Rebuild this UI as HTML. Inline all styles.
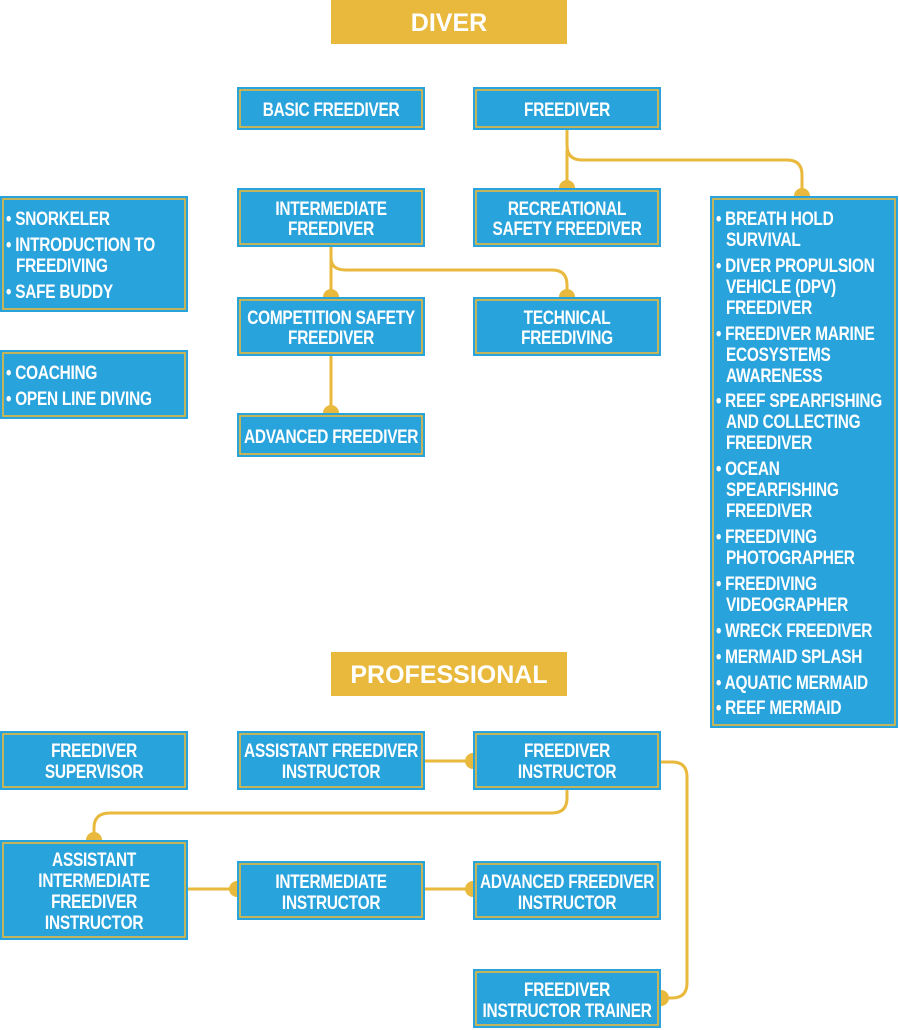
<!DOCTYPE html>
<html><head><meta charset="utf-8"><style>
html,body{margin:0;padding:0;background:#fff;}
svg{display:block}
.t{font-family:"Liberation Sans",sans-serif;font-weight:bold;font-size:19.5px;fill:#fff;letter-spacing:-0.3px;transform:scaleX(0.79);transform-box:fill-box;transform-origin:left center}
.c{text-anchor:middle;transform-origin:center center}
.h{font-family:"Liberation Sans",sans-serif;font-weight:bold;font-size:25px;fill:#fff;text-anchor:middle}
.b{fill:#29a3dc}
.i{fill:none;stroke:#e8b93c;stroke-width:1.6}
.l{fill:none;stroke:#e8b93c;stroke-width:3}
.d{fill:#e8b93c}
</style></head><body>
<svg width="899" height="1030" viewBox="0 0 899 1030" xmlns="http://www.w3.org/2000/svg">
<path class="l" d="M567 130 V145 Q567 160 582 160 H787 Q802 160 802 175 V196"/>
<path class="l" d="M567 150 V188"/>
<path class="l" d="M331 247 V258 Q331 270 346 270 H552 Q567 270 567 285 V297"/>
<path class="l" d="M331 247 V297"/>
<path class="l" d="M331 356 V413"/>
<path class="l" d="M425 761 H473"/>
<path class="l" d="M567 790 V798 Q567 813 552 813 H110 Q94 813 94 828 V840"/>
<path class="l" d="M188 889 H237"/>
<path class="l" d="M425 889 H473"/>
<path class="l" d="M661 762 H672 Q687 762 687 777 V983 Q687 998 672 998 H661"/>
<path class="d" d="M559 188 A8 8 0 0 1 575 188Z"/>
<path class="d" d="M794 196 A8 8 0 0 1 810 196Z"/>
<path class="d" d="M323 297 A8 8 0 0 1 339 297Z"/>
<path class="d" d="M559 297 A8 8 0 0 1 575 297Z"/>
<path class="d" d="M323 413 A8 8 0 0 1 339 413Z"/>
<path class="d" d="M473 753 A8 8 0 0 0 473 769Z"/>
<path class="d" d="M86 840 A8 8 0 0 1 102 840Z"/>
<path class="d" d="M237 881 A8 8 0 0 0 237 897Z"/>
<path class="d" d="M473 881 A8 8 0 0 0 473 897Z"/>
<path class="d" d="M661 990 A8 8 0 0 1 661 1006Z"/>
<rect x="331" y="0" width="236" height="44" fill="#e8b93c"/>
<text class="h" x="449" y="31">DIVER</text>
<rect x="331" y="652" width="236" height="44" fill="#e8b93c"/>
<text class="h" x="449" y="683">PROFESSIONAL</text>
<g>
<rect class="b" x="237" y="87" width="188" height="43"/><rect class="i" x="240" y="90" width="182" height="37"/>
<text class="t c" x="331" y="116">BASIC FREEDIVER</text>
<rect class="b" x="473" y="87" width="188" height="43"/><rect class="i" x="476" y="90" width="182" height="37"/>
<text class="t c" x="567" y="116">FREEDIVER</text>
<rect class="b" x="237" y="188" width="188" height="59"/><rect class="i" x="240" y="191" width="182" height="53"/>
<text class="t c" x="331" y="215">INTERMEDIATE</text><text class="t c" x="331" y="235">FREEDIVER</text>
<rect class="b" x="473" y="188" width="188" height="59"/><rect class="i" x="476" y="191" width="182" height="53"/>
<text class="t c" x="567" y="215">RECREATIONAL</text><text class="t c" x="567" y="235">SAFETY FREEDIVER</text>
<rect class="b" x="237" y="297" width="188" height="59"/><rect class="i" x="240" y="300" width="182" height="53"/>
<text class="t c" x="331" y="324">COMPETITION SAFETY</text><text class="t c" x="331" y="344">FREEDIVER</text>
<rect class="b" x="473" y="297" width="188" height="59"/><rect class="i" x="476" y="300" width="182" height="53"/>
<text class="t c" x="567" y="324">TECHNICAL</text><text class="t c" x="567" y="344">FREEDIVING</text>
<rect class="b" x="237" y="413" width="188" height="44"/><rect class="i" x="240" y="416" width="182" height="38"/>
<text class="t c" x="331" y="443">ADVANCED FREEDIVER</text>

<rect class="b" x="0" y="196" width="188" height="116"/><rect class="i" x="3" y="199" width="182" height="110"/>
<text class="t" x="6" y="225">• SNORKELER</text>
<text class="t" x="6" y="251">• INTRODUCTION TO</text>
<text class="t" x="16" y="272">FREEDIVING</text>
<text class="t" x="6" y="298">• SAFE BUDDY</text>
<rect class="b" x="0" y="350" width="188" height="69"/><rect class="i" x="3" y="353" width="182" height="63"/>
<text class="t" x="6" y="379">• COACHING</text>
<text class="t" x="6" y="405">• OPEN LINE DIVING</text>

<rect class="b" x="710" y="196" width="188" height="532"/><rect class="i" x="713" y="199" width="182" height="526"/>
<text class="t" x="716" y="225">• BREATH HOLD</text>
<text class="t" x="726" y="246">SURVIVAL</text>
<text class="t" x="716" y="272">• DIVER PROPULSION</text>
<text class="t" x="726" y="293">VEHICLE (DPV)</text>
<text class="t" x="726" y="314">FREEDIVER</text>
<text class="t" x="716" y="340">• FREEDIVER MARINE</text>
<text class="t" x="726" y="361">ECOSYSTEMS</text>
<text class="t" x="726" y="382">AWARENESS</text>
<text class="t" x="716" y="407">• REEF SPEARFISHING</text>
<text class="t" x="726" y="428">AND COLLECTING</text>
<text class="t" x="726" y="449">FREEDIVER</text>
<text class="t" x="716" y="475">• OCEAN</text>
<text class="t" x="726" y="496">SPEARFISHING</text>
<text class="t" x="726" y="517">FREEDIVER</text>
<text class="t" x="716" y="543">• FREEDIVING</text>
<text class="t" x="726" y="564">PHOTOGRAPHER</text>
<text class="t" x="716" y="590">• FREEDIVING</text>
<text class="t" x="726" y="611">VIDEOGRAPHER</text>
<text class="t" x="716" y="637">• WRECK FREEDIVER</text>
<text class="t" x="716" y="663">• MERMAID SPLASH</text>
<text class="t" x="716" y="689">• AQUATIC MERMAID</text>
<text class="t" x="716" y="714">• REEF MERMAID</text>

<rect class="b" x="0" y="731" width="188" height="59"/><rect class="i" x="3" y="734" width="182" height="53"/>
<text class="t c" x="94" y="757">FREEDIVER</text><text class="t c" x="94" y="778">SUPERVISOR</text>
<rect class="b" x="237" y="731" width="188" height="59"/><rect class="i" x="240" y="734" width="182" height="53"/>
<text class="t c" x="331" y="757">ASSISTANT FREEDIVER</text><text class="t c" x="331" y="778">INSTRUCTOR</text>
<rect class="b" x="473" y="731" width="188" height="59"/><rect class="i" x="476" y="734" width="182" height="53"/>
<text class="t c" x="567" y="757">FREEDIVER</text><text class="t c" x="567" y="778">INSTRUCTOR</text>
<rect class="b" x="0" y="840" width="188" height="100"/><rect class="i" x="3" y="843" width="182" height="94"/>
<text class="t c" x="94" y="866">ASSISTANT</text><text class="t c" x="94" y="887">INTERMEDIATE</text>
<text class="t c" x="94" y="908">FREEDIVER</text><text class="t c" x="94" y="929">INSTRUCTOR</text>
<rect class="b" x="237" y="861" width="188" height="59"/><rect class="i" x="240" y="864" width="182" height="53"/>
<text class="t c" x="331" y="888">INTERMEDIATE</text><text class="t c" x="331" y="909">INSTRUCTOR</text>
<rect class="b" x="473" y="861" width="188" height="59"/><rect class="i" x="476" y="864" width="182" height="53"/>
<text class="t c" x="567" y="888">ADVANCED FREEDIVER</text><text class="t c" x="567" y="909">INSTRUCTOR</text>
<rect class="b" x="473" y="969" width="188" height="59"/><rect class="i" x="476" y="972" width="182" height="53"/>
<text class="t c" x="567" y="996">FREEDIVER</text><text class="t c" x="567" y="1017">INSTRUCTOR TRAINER</text>
</g>
</svg>
</body></html>
